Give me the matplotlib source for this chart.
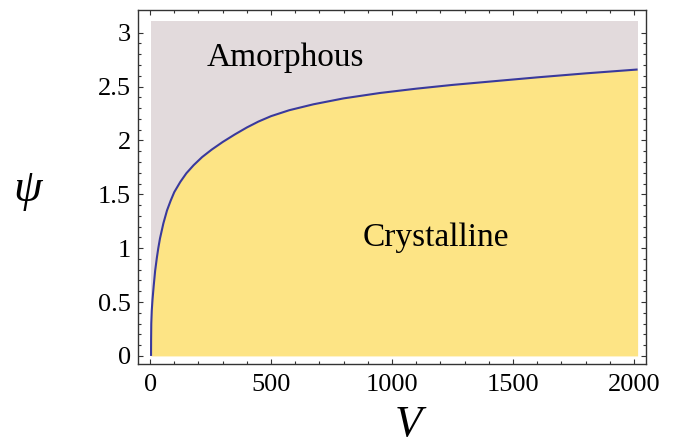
import matplotlib
matplotlib.use("Agg")
import matplotlib.pyplot as plt
import numpy as np

# Boundary curve psi(V)
V = [4, 4.3, 5, 7, 10, 15, 21, 28, 34, 41, 55, 70, 85, 100, 125, 150, 180, 215, 255,
     300, 350, 400, 448, 500, 575, 675, 800, 950, 1100, 1250, 1400, 1600, 1800, 2015]
psi = [0.0, 0.15, 0.30, 0.42, 0.52, 0.65, 0.79, 0.91, 1.0, 1.09, 1.23, 1.35, 1.44, 1.52,
       1.615, 1.695, 1.77, 1.845, 1.915, 1.985, 2.055, 2.12, 2.175, 2.225, 2.28, 2.335,
       2.39, 2.44, 2.48, 2.515, 2.545, 2.585, 2.622, 2.658]

psi_top = 3.11
x_ticks = [0, 500, 1000, 1500, 2000]
y_ticks = [0, 0.5, 1, 1.5, 2, 2.5, 3]
y_tick_labels = ["0", "0.5", "1", "1.5", "2", "2.5", "3"]
region_labels = ["Amorphous", "Crystalline"]

plt.rcParams['font.family'] = ['Liberation Serif', 'DejaVu Serif']

fig = plt.figure(figsize=(6.73, 4.45), dpi=100)
ax = fig.add_axes([0.205, 0.182, 0.755, 0.7955])

gray = "#e2dadc"
yellow = "#fde485"
line_c = "#3a3a9c"

ax.fill_between([V[0], V[-1]], [0, 0], [psi_top, psi_top], color=gray, lw=0, zorder=1)
ax.fill_between(V, 0, psi, color=yellow, lw=0, zorder=2)
ax.plot(V, psi, color=line_c, lw=1.5, zorder=3, solid_capstyle='butt', solid_joinstyle='round')

ax.set_xlim(-50, 2050)
ax.set_ylim(-0.075, 3.21)

ax.set_xticks(x_ticks)
ax.set_xticklabels([str(t) for t in x_ticks])
ax.set_xticks(np.arange(0, 2001, 100), minor=True)
ax.set_yticks(y_ticks)
ax.set_yticklabels(y_tick_labels)
ax.set_yticks(np.arange(0, 3.01, 0.1), minor=True)

ax.tick_params(which='both', direction='in', top=True, right=True, color='#333333', width=0.8)
ax.tick_params(which='major', length=3.5, labelsize=19, pad=5)
ax.tick_params(which='minor', length=2)
ax.tick_params(axis='x', which='major', pad=7)
for s in ax.spines.values():
    s.set_color('#333333')
    s.set_linewidth(1.0)

ax.text(558, 2.77, region_labels[0], fontsize=24, ha='center', va='center', zorder=4)
ax.text(1182, 1.10, region_labels[1], fontsize=24, ha='center', va='center', zorder=4)

fig.text(408 / 673, 1 - 425 / 445, "V", fontsize=32, style='italic', ha='center', va='center')
fig.text(28 / 673, 1 - 190 / 445, "ψ", fontsize=33, style='italic', ha='center', va='center')

fig.savefig("out.png", dpi=100)
